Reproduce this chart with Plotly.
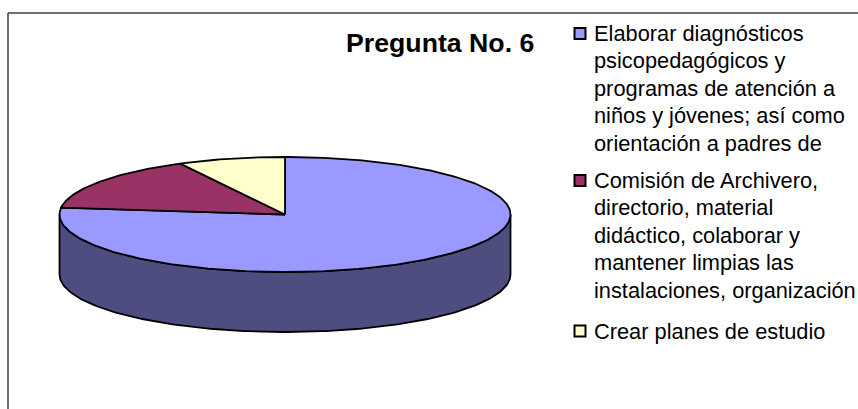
import numpy as np
import plotly.graph_objects as go


titulo = 'Pregunta No. 6'
categorias = [
    'Elaborar diagnósticos psicopedagógicos y programas de atención a niños y jóvenes; así como orientación a padres de',
    'Comisión de Archivero, directorio, material didáctico, colaborar y mantener limpias las instalaciones, organización',
    'Crear planes de estudio',
]
valores = [10, 2, 1]
colores = ['#9999FF', '#993366', '#FFFFCC']
colores_lado = ['#4D4D80', '#4D1A33', '#808066']
lineas_leyenda = [
    ['Elaborar diagnósticos', 'psicopedagógicos y', 'programas de atención a',
     'niños y jóvenes; así como', 'orientación a padres de'],
    ['Comisión de Archivero,', 'directorio, material', 'didáctico, colaborar y',
     'mantener limpias las', 'instalaciones, organización'],
    ['Crear planes de estudio'],
]

# pie geometry, in page pixels
cx, cy = 285, 214.5
rx, ry = 225.5, 57.5
alto = 60

# legend placement
ley_y = [33.5, 180.5, 331]
ley_paso = 27.4
ley_marca_x = 580
ley_texto_x = 594


def arco(a0, a1):
    t = np.radians(np.linspace(a0, a1, max(int(abs(a1 - a0)) + 2, 2)))
    return cx + rx * np.sin(t), cy - ry * np.cos(t)


fig = go.Figure()

fracciones = np.array(valores) / sum(valores)
bordes = np.concatenate([[0], np.cumsum(fracciones) * 360])

# side wall: only the front half of the rim (90 to 270 deg) is visible
for i, nombre in enumerate(categorias):
    a0, a1 = max(bordes[i], 90), min(bordes[i + 1], 270)
    if a1 <= a0:
        continue
    x, y = arco(a0, a1)
    fig.add_trace(go.Scatter(
        x=np.concatenate([x, x[::-1], x[:1]]),
        y=np.concatenate([y, y[::-1] + alto, y[:1]]),
        mode='lines', fill='toself', fillcolor=colores_lado[i],
        line=dict(color='black', width=1.8), hoverinfo='skip', showlegend=False,
    ))

# top face
for i, nombre in enumerate(categorias):
    x, y = arco(bordes[i], bordes[i + 1])
    fig.add_trace(go.Scatter(
        x=np.concatenate([[cx], x, [cx]]),
        y=np.concatenate([[cy], y, [cy]]),
        mode='lines', fill='toself', fillcolor=colores[i],
        line=dict(color='black', width=1.8), name=nombre,
        text=[nombre], hoverinfo='text', showlegend=False,
    ))

# legend keys and text
for i, nombre in enumerate(categorias):
    fig.add_trace(go.Scatter(
        x=[ley_marca_x], y=[ley_y[i]], mode='markers', name=nombre,
        marker=dict(symbol='square', size=11, color=colores[i],
                    line=dict(color='black', width=2)),
        hoverinfo='skip', showlegend=False,
    ))
    for j, linea in enumerate(lineas_leyenda[i]):
        fig.add_annotation(
            x=ley_texto_x, y=ley_y[i] + j * ley_paso, text=linea, showarrow=False,
            xanchor='left', yanchor='middle', xshift=-2,
            font=dict(family='Liberation Sans', size=21.8, color='black'),
        )

fig.add_annotation(
    x=440, y=43, text='<b>' + titulo + '</b>', showarrow=False,
    font=dict(family='Liberation Sans', size=26.7, color='black'),
)

# chart frame
fig.add_shape(type='line', x0=8, x1=858, y0=13, y1=13, line=dict(color='#404040', width=1.5))
fig.add_shape(type='line', x0=8, x1=8, y0=13, y1=409, line=dict(color='#404040', width=1.5))

fig.update_layout(
    width=858, height=409,
    margin=dict(l=0, r=0, t=0, b=0),
    paper_bgcolor='white', plot_bgcolor='white',
    showlegend=False,
    xaxis=dict(range=[0, 858], visible=False),
    yaxis=dict(range=[409, 0], visible=False),
)

fig.write_html("out.html", config=dict(displayModeBar=False),
               post_script="document.body.style.margin='0';")
